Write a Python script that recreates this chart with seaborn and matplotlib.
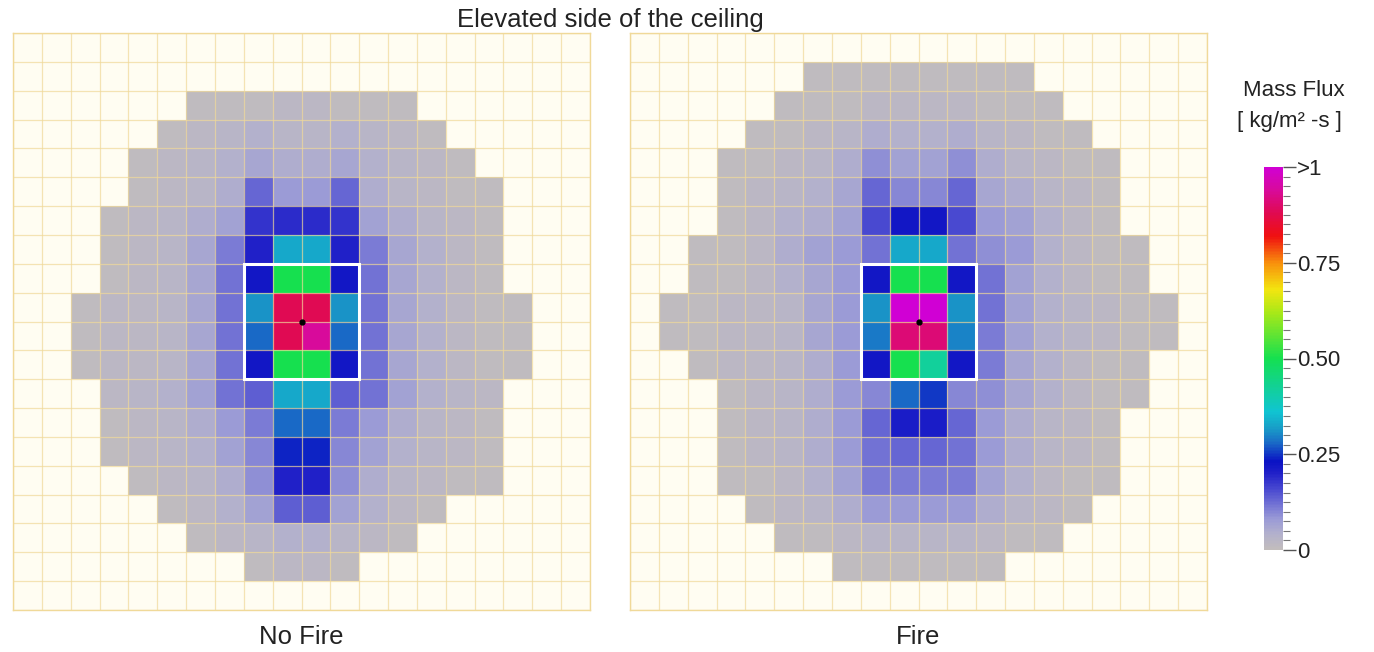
import numpy as np
import pandas as pd
import matplotlib
matplotlib.use("Agg")
import matplotlib.pyplot as plt
from matplotlib.colors import LinearSegmentedColormap
from matplotlib.patches import Rectangle
from matplotlib.ticker import MultipleLocator
import seaborn as sns

o = np.nan  # cell outside the ceiling vent footprint

# Mass flux per ceiling cell [kg/m^2-s], 20 x 20 grid, row 0 at the top
no_fire_flux = [
    [o, o, o, o, o, o, o, o, o, o, o, o, o, o, o, o, o, o, o, o],
    [o, o, o, o, o, o, o, o, o, o, o, o, o, o, o, o, o, o, o, o],
    [o, o, o, o, o, o, .01, .01, .01, .02, .02, .01, .01, .01, o, o, o, o, o, o],
    [o, o, o, o, o, .01, .02, .03, .04, .03, .03, .04, .03, .02, .01, o, o, o, o, o],
    [o, o, o, o, .01, .02, .03, .04, .06, .05, .05, .06, .04, .03, .02, .01, o, o, o, o],
    [o, o, o, o, .01, .02, .03, .05, .13, .08, .08, .13, .05, .03, .02, .01, .01, o, o, o],
    [o, o, o, .01, .02, .03, .05, .07, .18, .19, .19, .18, .07, .05, .03, .02, .01, o, o, o],
    [o, o, o, .01, .02, .03, .06, .11, .20, .33, .33, .20, .11, .06, .04, .02, .01, o, o, o],
    [o, o, o, .01, .02, .03, .06, .12, .22, .50, .50, .22, .12, .06, .04, .02, .01, o, o, o],
    [o, o, .01, .02, .02, .03, .06, .12, .31, .88, .88, .31, .12, .06, .04, .02, .01, .01, o, o],
    [o, o, .01, .02, .02, .03, .06, .12, .28, .88, .94, .28, .12, .06, .04, .02, .01, .01, o, o],
    [o, o, .01, .02, .02, .03, .06, .12, .22, .50, .50, .22, .12, .06, .04, .02, .01, .01, o, o],
    [o, o, o, .02, .03, .04, .07, .12, .14, .33, .33, .14, .12, .07, .04, .03, .02, o, o, o],
    [o, o, o, .01, .02, .03, .05, .08, .11, .28, .28, .11, .08, .05, .03, .02, .01, o, o, o],
    [o, o, o, .01, .02, .03, .04, .07, .10, .24, .24, .10, .07, .04, .03, .02, .01, o, o, o],
    [o, o, o, o, .01, .02, .03, .05, .09, .20, .20, .09, .05, .03, .02, .01, .01, o, o, o],
    [o, o, o, o, o, .01, .02, .04, .07, .14, .14, .07, .04, .02, .01, o, o, o, o, o],
    [o, o, o, o, o, o, .01, .02, .03, .04, .04, .03, .02, .01, o, o, o, o, o, o],
    [o, o, o, o, o, o, o, o, .01, .02, .02, .01, o, o, o, o, o, o, o, o],
    [o, o, o, o, o, o, o, o, o, o, o, o, o, o, o, o, o, o, o, o],
]

fire_flux = [
    [o, o, o, o, o, o, o, o, o, o, o, o, o, o, o, o, o, o, o, o],
    [o, o, o, o, o, o, .01, .01, .01, .01, .01, .01, .01, .01, o, o, o, o, o, o],
    [o, o, o, o, o, .01, .01, .01, .02, .02, .02, .02, .01, .01, .01, o, o, o, o, o],
    [o, o, o, o, .01, .01, .02, .03, .05, .04, .04, .05, .03, .02, .01, .01, o, o, o, o],
    [o, o, o, .01, .01, .02, .03, .05, .09, .07, .07, .09, .05, .03, .02, .01, .01, o, o, o],
    [o, o, o, .01, .02, .03, .04, .06, .13, .10, .10, .13, .06, .05, .03, .02, .01, o, o, o],
    [o, o, o, .01, .02, .04, .05, .07, .16, .22, .22, .16, .08, .07, .04, .02, .01, o, o, o],
    [o, o, .01, .01, .02, .05, .07, .08, .12, .33, .33, .12, .09, .08, .04, .02, .01, .01, o, o],
    [o, o, .01, .01, .02, .04, .06, .08, .22, .50, .50, .22, .12, .07, .04, .02, .01, .01, o, o],
    [o, .01, .01, .02, .02, .03, .06, .08, .31, 1.0, 1.0, .31, .12, .07, .04, .03, .02, .01, .01, o],
    [o, .01, .01, .02, .02, .03, .06, .08, .29, .91, .91, .30, .11, .07, .04, .03, .02, .01, .01, o],
    [o, o, .01, .02, .02, .03, .05, .08, .22, .50, .42, .22, .11, .06, .04, .02, .01, .01, o, o],
    [o, o, o, .01, .02, .03, .05, .08, .10, .28, .25, .10, .09, .06, .04, .02, .01, .01, o, o],
    [o, o, o, .01, .02, .03, .05, .08, .13, .21, .21, .13, .08, .05, .03, .02, .01, o, o, o],
    [o, o, o, .01, .02, .03, .05, .08, .12, .13, .13, .12, .08, .05, .03, .02, .01, o, o, o],
    [o, o, o, .01, .01, .02, .04, .07, .11, .11, .11, .11, .07, .04, .02, .01, .01, o, o, o],
    [o, o, o, o, .01, .02, .03, .05, .08, .08, .08, .08, .05, .03, .02, .01, o, o, o, o],
    [o, o, o, o, o, .01, .01, .02, .03, .03, .03, .03, .02, .01, .01, o, o, o, o, o],
    [o, o, o, o, o, o, o, .01, .01, .01, .01, .01, .01, o, o, o, o, o, o, o],
    [o, o, o, o, o, o, o, o, o, o, o, o, o, o, o, o, o, o, o, o],
]

panel_labels = ["No Fire", "Fire"]
cbar_ticks = [0.0, 0.25, 0.50, 0.75, 1.0]
cbar_ticklabels = ["0", "0.25", "0.50", "0.75", ">1"]

sns.set_theme(style="white")
plt.rcParams["font.family"] = ["Liberation Sans", "DejaVu Sans"]
text_color = "#222222"

# Smokeview-like rainbow scale from grey/lavender through blue, cyan, green,
# yellow and red up to magenta
cmap_stops = [0.0, 0.04, 0.08, 0.12, 0.16, 0.20, 0.23, 0.28, 0.32, 0.36,
              0.50, 0.62, 0.68, 0.75, 0.82, 0.88, 0.94, 1.0]
cmap_colors = ["#c2bdbc", "#b3b1cc", "#9a9ad6", "#7070d4", "#4646d0", "#2020c8",
               "#0a12c4", "#1a6cc6", "#18a0c8", "#10c4d2",
               "#14e050", "#a8e818", "#f2e610", "#f8900c", "#f01010", "#e00a50",
               "#d80a9a", "#d000d4"]
cmap = LinearSegmentedColormap.from_list("massflux", list(zip(cmap_stops, cmap_colors)))

fig = plt.figure(figsize=(13.74, 6.52), dpi=100)
W, H = 1374, 652
panel_boxes = [(13, 33), (630, 33)]
size = 577

grid_color = (0.94, 0.85, 0.60)
mesh = None
for data, (px, py), label in zip([no_fire_flux, fire_flux], panel_boxes, panel_labels):
    ax = fig.add_axes([px / W, 1 - (py + size) / H, size / W, size / H])
    ax.set_facecolor("#fffdf2")
    sns.heatmap(pd.DataFrame(data), ax=ax, cmap=cmap, vmin=0, vmax=1, cbar=False,
                xticklabels=False, yticklabels=False, linewidths=0)
    mesh = ax.collections[0]
    n = len(data)
    ax.vlines(np.arange(n + 1), 0, n, colors=[grid_color], linewidth=0.9,
              alpha=0.7, zorder=3)
    ax.hlines(np.arange(n + 1), 0, n, colors=[grid_color], linewidth=0.9,
              alpha=0.7, zorder=3)
    # vent outline and its centre point
    ax.add_patch(Rectangle((8, 8), 4, 4, fill=False, edgecolor="white",
                           linewidth=2.2, zorder=4))
    ax.plot([10], [10], marker="o", color="black", markersize=3.5, zorder=5)
    ax.set_xlim(0, n)
    ax.set_ylim(n, 0)
    for spine in ax.spines.values():
        spine.set_visible(True)
        spine.set_color(grid_color)
        spine.set_linewidth(1.0)
    fig.text((px + size / 2) / W, 1 - 637 / H, label, ha="center", va="center",
             fontsize=18.5, color=text_color)

fig.text(610 / W, 1 - 20 / H, "Elevated side of the ceiling", ha="center",
         va="center", fontsize=18.5, color=text_color)

cax = fig.add_axes([1264 / W, 1 - 550 / H, 19 / W, 383 / H])
cb = fig.colorbar(mesh, cax=cax)
cb.outline.set_visible(False)
cb.set_ticks(cbar_ticks, labels=cbar_ticklabels)
cax.yaxis.set_minor_locator(MultipleLocator(0.025))
cax.tick_params(which="major", length=9, width=1.0, color="#555555",
                labelsize=16, labelcolor=text_color, pad=1, right=True)
cax.tick_params(which="minor", length=5, width=0.8, color="#777777", right=True)

fig.text(1294 / W, 1 - 90 / H, "Mass Flux", ha="center", va="center",
         fontsize=16, color=text_color)
fig.text(1289 / W, 1 - 121 / H, "[ kg/m² -s ]", ha="center", va="center",
         fontsize=16, color=text_color)

fig.savefig("out.png", dpi=100, facecolor="white")
